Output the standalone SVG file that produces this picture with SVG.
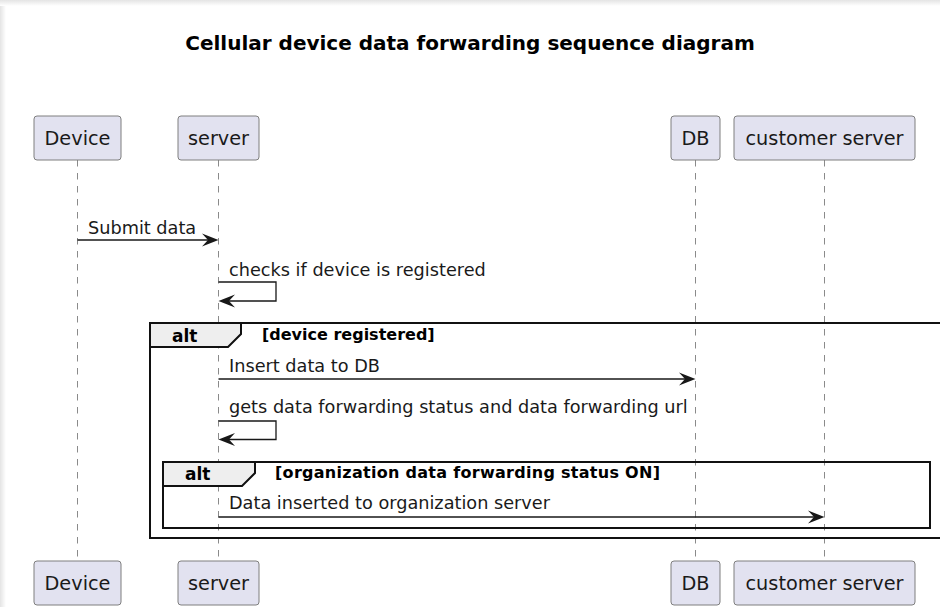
<svg xmlns="http://www.w3.org/2000/svg" width="940" height="607" viewBox="0 0 940 607">
<defs>
<linearGradient id="gTop" x1="0" y1="0" x2="0" y2="1"><stop offset="0" stop-color="#e4e4e4"/><stop offset="1" stop-color="#ffffff"/></linearGradient>
<linearGradient id="gLeft" x1="0" y1="0" x2="1" y2="0"><stop offset="0" stop-color="#e4e4e4"/><stop offset="1" stop-color="#ffffff"/></linearGradient>
</defs>
<style>
.part{fill:#E2E2F0;stroke:#7f7f7f;stroke-width:1}
.ptxt{font-family:"DejaVu Sans",sans-serif;font-size:19.3px;fill:#1a1a1a;text-anchor:middle}
.life{stroke:#8a8a8a;stroke-width:1;stroke-dasharray:6.5,6.5;fill:none}
.msg{stroke:#181818;stroke-width:1.3;fill:none}
.head{fill:#181818}
.mtxt{font-family:"DejaVu Sans",sans-serif;font-size:17.7px;fill:#1a1a1a}
.frame{fill:none;stroke:#111;stroke-width:2}
.tab{fill:#EEEEEE;stroke:#111;stroke-width:2}
.alt{font-family:"DejaVu Sans",sans-serif;font-size:17px;font-weight:bold;fill:#000}
.guard{font-family:"DejaVu Sans",sans-serif;font-size:16px;font-weight:bold;fill:#000}
.title{font-family:"DejaVu Sans",sans-serif;font-size:20px;font-weight:bold;fill:#000;text-anchor:middle}
</style>
<rect x="0" y="0" width="940" height="607" fill="#ffffff"/>
<rect x="0" y="0" width="940" height="6" fill="url(#gTop)"/>
<rect x="0" y="6" width="6" height="601" fill="url(#gLeft)"/>
<text class="title" x="470" y="50">Cellular device data forwarding sequence diagram</text>
<g id="lifelines">
<line class="life" x1="77.5" y1="160" x2="77.5" y2="561"/>
<line class="life" x1="218.5" y1="160" x2="218.5" y2="561"/>
<line class="life" x1="695.5" y1="160" x2="695.5" y2="561"/>
<line class="life" x1="824.5" y1="160" x2="824.5" y2="561"/>
</g>
<g id="Device">
<rect class="part" x="34" y="116" width="87" height="44" rx="3"/>
<text class="ptxt" x="77.5" y="144.5">Device</text>
<rect class="part" x="34" y="561" width="87" height="44" rx="3"/>
<text class="ptxt" x="77.5" y="589.5">Device</text>
</g>
<g id="server">
<rect class="part" x="178" y="116" width="81" height="44" rx="3"/>
<text class="ptxt" x="218.5" y="144.5">server</text>
<rect class="part" x="178" y="561" width="81" height="44" rx="3"/>
<text class="ptxt" x="218.5" y="589.5">server</text>
</g>
<g id="DB">
<rect class="part" x="671" y="116" width="49" height="44" rx="3"/>
<text class="ptxt" x="695.5" y="144.5">DB</text>
<rect class="part" x="671" y="561" width="49" height="44" rx="3"/>
<text class="ptxt" x="695.5" y="589.5">DB</text>
</g>
<g id="customer_server">
<rect class="part" x="734" y="116" width="181" height="44" rx="3"/>
<text class="ptxt" x="824.5" y="144.5">customer server</text>
<rect class="part" x="734" y="561" width="181" height="44" rx="3"/>
<text class="ptxt" x="824.5" y="589.5">customer server</text>
</g>
<g id="alt_outer">
<rect class="frame" x="150" y="323" width="800" height="215"/>
<polygon class="tab" points="150,323 241,323 241,334 228,347 150,347"/>
<text class="alt" x="172" y="342">alt</text>
<text class="guard" x="262" y="340">[device registered]</text>
</g>
<g id="alt_inner">
<rect class="frame" x="163" y="462" width="767" height="66"/>
<polygon class="tab" points="163,462 255,462 255,473 242,486 163,486"/>
<text class="alt" x="185" y="480">alt</text>
<text class="guard" x="275" y="478" textLength="385" lengthAdjust="spacing">[organization data forwarding status ON]</text>
</g>
<g id="connectors">
<line class="msg" x1="77.5" y1="240" x2="214" y2="240"/>
<polygon class="head" points="218.5,240 202,233.5 208,240 202,246.5"/>
<text class="mtxt" x="88" y="234">Submit data</text>
<polyline class="msg" points="218.5,282 276,282 276,301 222,301"/>
<polygon class="head" points="218.5,301 235,294.5 229,301 235,307.5"/>
<text class="mtxt" x="229" y="275.5">checks if device is registered</text>
<line class="msg" x1="218.5" y1="379" x2="691" y2="379"/>
<polygon class="head" points="695.5,379 679,372.5 685,379 679,385.5"/>
<text class="mtxt" x="229" y="372">Insert data to DB</text>
<polyline class="msg" points="218.5,421 276,421 276,439.5 222,439.5"/>
<polygon class="head" points="218.5,439.5 235,433 229,439.5 235,446"/>
<text class="mtxt" x="229" y="413">gets data forwarding status and data forwarding url</text>
<line class="msg" x1="218.5" y1="517" x2="820" y2="517"/>
<polygon class="head" points="824.5,517 808,510.5 814,517 808,523.5"/>
<text class="mtxt" x="229" y="509">Data inserted to organization server</text>
</g>
</svg>
